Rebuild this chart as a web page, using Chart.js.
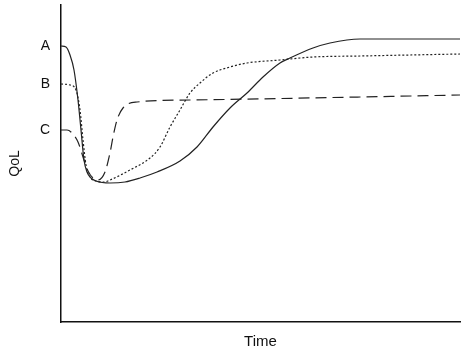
<!DOCTYPE html>
<html>
<head>
<meta charset="utf-8">
<script src="https://cdn.jsdelivr.net/npm/chart.js@4"></script>
<style>
  html, body { margin: 0; padding: 0; background: #fff; }
  #wrap { width: 468px; height: 352px; }
</style>
</head>
<body>
<div id="wrap"><canvas id="qolChart" width="468" height="352"></canvas></div>
<script>
// QoL over time - three recovery profiles
const yTickValues = [276, 238, 192];
const yTickLabels = ['A', 'B', 'C'];

const solidX = [0, 5, 9, 13, 17, 20, 23, 26, 30, 35, 49, 64, 79, 96, 119, 136, 152, 169, 186, 202, 219, 229, 252, 269, 299, 399];
const solidY = [276, 275, 267, 252, 222, 192, 162, 150, 144, 141, 139, 140, 144, 150, 161, 175, 195, 214, 229, 245, 259, 264, 274, 279, 283, 283];

const dottedX = [0, 9, 15, 19, 22, 25, 29, 35, 43, 49, 69, 89, 99, 109, 119, 129, 139, 152, 169, 186, 219, 252, 299, 399];
const dottedY = [238, 237, 232, 212, 182, 157, 145, 141, 140, 142, 152, 164, 175, 195, 212, 229, 239, 249, 255, 259, 262, 265, 266, 268];

const dashedX = [0, 6, 11, 17, 22, 27, 32, 37, 44, 49, 52, 56, 62, 76, 129, 299, 399];
const dashedY = [192, 192, 189, 180, 165, 151, 144, 142, 150, 169, 185, 202, 214, 220, 222, 225, 227];

function toPoints(xs, ys) {
    return xs.map((x, i) => ({ x: x, y: ys[i] }));
}

const lineBase = {
    borderColor: '#222',
    borderWidth: 1.2,
    pointRadius: 0,
    fill: false,
    cubicInterpolationMode: 'monotone'
};

const ctx = document.getElementById('qolChart').getContext('2d');
new Chart(ctx, {
    type: 'line',
    data: {
        datasets: [
            Object.assign({ label: 'A', data: toPoints(solidX, solidY) }, lineBase),
            Object.assign({ label: 'B', data: toPoints(dottedX, dottedY), borderDash: [2, 2] }, lineBase),
            Object.assign({ label: 'C', data: toPoints(dashedX, dashedY), borderDash: [11, 6] }, lineBase)
        ]
    },
    options: {
        responsive: false,
        animation: false,
        layout: { padding: { top: 5, right: 8, bottom: 0, left: 0 } },
        plugins: {
            legend: { display: false },
            tooltip: { enabled: false }
        },
        scales: {
            x: {
                type: 'linear',
                min: 0,
                max: 399,
                grid: { display: false, drawTicks: false },
                border: { color: '#111', width: 1.5 },
                ticks: { display: false },
                title: {
                    display: true,
                    text: 'Time',
                    color: '#111',
                    font: { family: 'Liberation Sans', size: 15 },
                    padding: { top: 0, bottom: 1.6 }
                },
                afterFit: scale => {
                    scale.height = 30;
                    scale.paddingLeft = 0;
                    scale.paddingRight = 0;
                }
            },
            y: {
                type: 'linear',
                min: 0,
                max: 317,
                grid: { display: false, drawTicks: false },
                border: { color: '#111', width: 1.5 },
                afterBuildTicks: scale => {
                    scale.ticks = yTickValues.map(v => ({ value: v }));
                },
                ticks: {
                    padding: 11,
                    color: '#111',
                    font: { family: 'Liberation Sans', size: 14 },
                    callback: function(value) {
                        const i = yTickValues.indexOf(value);
                        return i >= 0 ? yTickLabels[i] : '';
                    }
                },
                title: {
                    display: true,
                    text: 'QoL',
                    color: '#111',
                    font: { family: 'Liberation Sans', size: 14 },
                    padding: { top: 6.6, bottom: 0 }
                },
                afterFit: scale => {
                    scale.width = 61;
                    scale.paddingTop = 0;
                    scale.paddingBottom = 0;
                }
            }
        }
    }
});
</script>
</body>
</html>
